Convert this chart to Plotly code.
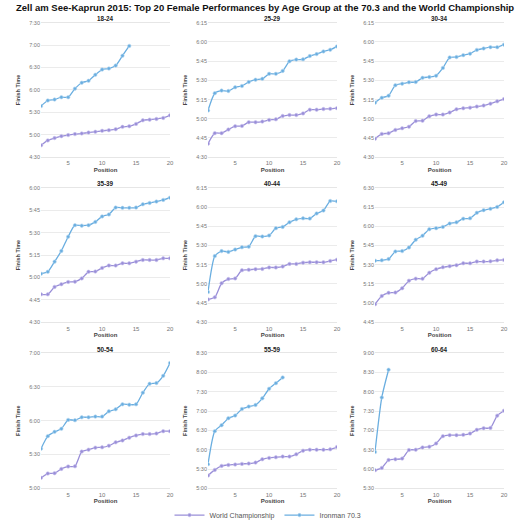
import plotly.graph_objects as go

age_groups = ["18-24", "25-29", "30-34", "35-39", "40-44", "45-49", "50-54", "55-59", "60-64"]

# Ironman 70.3 finish times (h:mm:ss)
im_18_24 = ["5:38:24", "5:45:54", "5:47:12", "5:50:18", "5:50:18", "6:01:48", "6:09:42", "6:12:18", "6:20:18", "6:27:18",
            "6:28:42", "6:32:36", "6:45:54", "6:59:00"]
im_25_29 = ["5:06:30", "5:20:00", "5:22:00", "5:21:42", "5:24:36", "5:25:36", "5:28:42", "5:30:30", "5:31:12", "5:35:06",
            "5:35:06", "5:37:24", "5:44:54", "5:46:12", "5:46:24", "5:49:00", "5:50:30", "5:52:36", "5:53:54", "5:56:30"]
im_30_34 = ["5:12:36", "5:16:24", "5:18:00", "5:26:12", "5:27:24", "5:28:30", "5:28:42", "5:32:00", "5:32:36", "5:33:36",
            "5:39:42", "5:47:54", "5:48:12", "5:49:42", "5:50:48", "5:53:48", "5:54:54", "5:55:54", "5:55:54", "5:57:54"]
im_35_39 = ["5:02:30", "5:03:48", "5:10:36", "5:17:48", "5:27:18", "5:35:00", "5:34:42", "5:35:00", "5:37:12", "5:40:54",
            "5:42:12", "5:46:48", "5:46:36", "5:46:36", "5:46:48", "5:49:00", "5:49:54", "5:50:48", "5:51:54", "5:53:24"]
im_40_44 = ["4:53:36", "5:21:42", "5:25:36", "5:25:00", "5:26:48", "5:28:36", "5:29:06", "5:37:18", "5:37:00", "5:37:48",
            "5:43:30", "5:44:30", "5:48:06", "5:50:24", "5:51:12", "5:51:00", "5:55:00", "5:57:18", "6:04:42", "6:04:30"]
im_45_49 = ["5:33:06", "5:33:24", "5:34:24", "5:40:18", "5:40:36", "5:43:24", "5:49:30", "5:52:36", "5:57:42", "5:58:30",
            "5:59:30", "6:02:06", "6:03:06", "6:05:54", "6:06:12", "6:10:30", "6:12:36", "6:13:36", "6:15:06", "6:18:42"]
im_50_54 = ["5:35:12", "5:46:18", "5:50:06", "5:52:48", "6:00:42", "6:00:24", "6:03:00", "6:03:00", "6:03:36", "6:03:36",
            "6:08:18", "6:10:06", "6:14:30", "6:14:12", "6:14:30", "6:24:48", "6:32:42", "6:33:18", "6:39:42", "6:51:06"]
im_55_59 = ["5:37:30", "6:28:48", "6:38:00", "6:48:48", "6:52:54", "7:03:12", "7:06:48", "7:09:24", "7:19:36", "7:34:30",
            "7:43:12", "7:52:00"]
im_60_64 = ["6:26:24", "7:51:00", "8:34:00"]

# World Championship finish times (h:mm:ss)
wc_18_24 = ["4:45:54", "4:52:30", "4:55:36", "4:58:12", "4:59:36", "5:00:54", "5:01:48", "5:03:00", "5:04:00", "5:05:18",
            "5:06:12", "5:07:30", "5:10:36", "5:11:30", "5:14:36", "5:19:24", "5:20:18", "5:21:12", "5:22:30", "5:26:00"]
wc_25_29 = ["4:40:36", "4:48:48", "4:48:48", "4:51:36", "4:54:12", "4:54:24", "4:57:18", "4:57:18", "4:57:48", "4:59:06",
            "4:59:36", "5:02:12", "5:02:54", "5:02:54", "5:04:12", "5:07:06", "5:07:06", "5:07:36", "5:07:48", "5:08:18"]
wc_30_34 = ["4:44:24", "4:48:12", "4:48:42", "4:51:18", "4:52:36", "4:53:48", "4:58:12", "4:58:30", "5:02:00", "5:03:18",
            "5:03:18", "5:04:54", "5:07:24", "5:08:12", "5:08:42", "5:09:30", "5:10:18", "5:11:48", "5:13:36", "5:15:24"]
wc_35_39 = ["4:48:42", "4:48:42", "4:53:42", "4:55:30", "4:57:00", "4:57:12", "4:59:24", "5:03:48", "5:04:00", "5:06:24",
            "5:08:00", "5:08:00", "5:09:30", "5:09:30", "5:10:36", "5:11:42", "5:11:42", "5:11:42", "5:12:48", "5:12:48"]
wc_40_44 = ["4:47:54", "4:49:30", "5:00:30", "5:03:48", "5:04:18", "5:10:42", "5:11:00", "5:11:30", "5:11:42", "5:12:48",
            "5:12:48", "5:13:30", "5:15:36", "5:15:36", "5:16:36", "5:16:54", "5:16:54", "5:16:54", "5:17:54", "5:18:54"]
wc_45_49 = ["4:59:06", "5:05:30", "5:08:00", "5:08:18", "5:11:36", "5:17:30", "5:19:06", "5:19:06", "5:23:42", "5:26:30",
            "5:28:00", "5:28:48", "5:29:36", "5:31:06", "5:31:06", "5:32:24", "5:32:24", "5:32:36", "5:33:24", "5:33:42"]
wc_50_54 = ["5:09:24", "5:13:12", "5:13:30", "5:17:18", "5:19:24", "5:19:36", "5:32:36", "5:34:18", "5:36:06", "5:36:24",
            "5:37:48", "5:40:48", "5:42:30", "5:44:54", "5:46:54", "5:48:06", "5:48:06", "5:48:42", "5:50:42", "5:50:42"]
wc_55_59 = ["5:20:00", "5:28:42", "5:34:54", "5:36:24", "5:37:00", "5:38:00", "5:38:30", "5:40:00", "5:45:12", "5:47:12",
            "5:48:18", "5:49:18", "5:49:18", "5:52:54", "5:58:30", "6:00:00", "6:00:00", "6:00:00", "6:00:36", "6:04:12"]
wc_60_64 = ["5:58:12", "6:01:48", "6:14:06", "6:15:06", "6:16:12", "6:29:30", "6:30:00", "6:33:36", "6:34:36", "6:39:42",
            "6:51:00", "6:52:36", "6:52:36", "6:53:00", "6:55:00", "7:00:48", "7:03:18", "7:03:48", "7:22:48", "7:30:30"]

# Y axis range per panel (h:mm) and tick step (minutes)
y_min = ["4:30", "4:30", "4:30", "4:30", "4:30", "4:45", "5:00", "5:00", "5:30"]
y_max = ["7:30", "6:15", "6:15", "6:00", "6:15", "6:30", "7:00", "8:30", "9:00"]
y_step = [30, 15, 15, 15, 15, 15, 30, 30, 30]
x_ticks = [5, 10, 15, 20]

im_series = [im_18_24, im_25_29, im_30_34, im_35_39, im_40_44, im_45_49, im_50_54, im_55_59, im_60_64]
wc_series = [wc_18_24, wc_25_29, wc_30_34, wc_35_39, wc_40_44, wc_45_49, wc_50_54, wc_55_59, wc_60_64]


def to_min(s):
    parts = [float(p) for p in s.split(":")]
    m = parts[0] * 60 + parts[1]
    if len(parts) > 2:
        m += parts[2] / 60
    return m


def fmt(m):
    m = int(round(m))
    return f"{m // 60}:{m % 60:02d}"


W = H = 530
col_px = [(41, 170), (208, 337), (375, 504)]
row_px = [(23, 159), (190, 326), (357, 494)]


def px_x(p):
    return p / W


def px_y(p):
    return 1 - p / H


C_WC = "#9a8fd8"
C_IM = "#6aaee0"
FONT = "Liberation Sans, Arial, sans-serif"

fig = go.Figure()
annotations = []
layout_axes = {}

for i, grp in enumerate(age_groups):
    r, c = divmod(i, 3)
    n = i + 1
    xa = "x" if n == 1 else f"x{n}"
    ya = "y" if n == 1 else f"y{n}"
    wc = [to_min(v) for v in wc_series[i]]
    im = [to_min(v) for v in im_series[i]]
    fig.add_trace(go.Scatter(
        x=list(range(1, len(wc) + 1)), y=wc, mode="lines+markers", name="World Championship",
        line=dict(color=C_WC, width=1.3, shape="spline", smoothing=0.6),
        marker=dict(size=3.5, color=C_WC, line=dict(color="#c9c2ee", width=0.6)),
        xaxis=xa, yaxis=ya, showlegend=(i == 0), legendgroup="wc"))
    fig.add_trace(go.Scatter(
        x=list(range(1, len(im) + 1)), y=im, mode="lines+markers", name="Ironman 70.3",
        line=dict(color=C_IM, width=1.3, shape="spline", smoothing=0.6),
        marker=dict(size=3.5, color=C_IM, line=dict(color="#b5d7f0", width=0.6)),
        xaxis=xa, yaxis=ya, showlegend=(i == 0), legendgroup="im"))

    lo, hi = to_min(y_min[i]), to_min(y_max[i])
    tv = []
    t = lo
    while t <= hi + 1e-6:
        tv.append(t)
        t += y_step[i]
    x0, x1 = col_px[c]
    y0, y1 = row_px[r]
    key_x = "xaxis" if n == 1 else f"xaxis{n}"
    key_y = "yaxis" if n == 1 else f"yaxis{n}"
    layout_axes[key_x] = dict(
        domain=[px_x(x0), px_x(x1)], anchor=ya, range=[1, 20], tickvals=x_ticks, automargin=False,
        showgrid=False, zeroline=False, showline=True, linecolor="#e6e6e6", linewidth=1, mirror=True,
        ticks="", tickfont=dict(size=6, color="#777777", family=FONT),
        title=dict(text="<b>Position</b>", font=dict(size=6, color="#444444", family=FONT), standoff=2),
    )
    layout_axes[key_y] = dict(
        domain=[px_y(y1), px_y(y0)], anchor=xa, range=[lo, hi], tickvals=tv, automargin=False,
        ticktext=[fmt(v) for v in tv], showgrid=True, gridcolor="#ebebeb", gridwidth=1,
        zeroline=False, showline=False, ticks="",
        tickfont=dict(size=5.5, color="#777777", family=FONT),
        title=dict(text="<b>Finish Time</b>", font=dict(size=5.5, color="#444444", family=FONT), standoff=8),
    )
    annotations.append(dict(
        text=f"<b>{grp}</b>", x=px_x((x0 + x1) / 2), y=px_y(y0 - 4), xref="paper", yref="paper",
        xanchor="center", yanchor="middle", showarrow=False,
        font=dict(size=6.3, color="#222222", family=FONT)))

annotations.append(dict(
    text="<b>Zell am See-Kaprun 2015: Top 20 Female Performances by Age Group at the 70.3 and the World Championship</b>",
    x=px_x(265), y=px_y(7.5), xref="paper", yref="paper", xanchor="center", yanchor="middle", showarrow=False,
    font=dict(size=9.5, color="#111111", family=FONT)))

fig.update_layout(
    width=W, height=H, margin=dict(l=0, r=0, t=0, b=0),
    paper_bgcolor="white", plot_bgcolor="white",
    showlegend=True,
    legend=dict(orientation="h", x=px_x(268), xanchor="center", y=px_y(521), yanchor="middle",
                font=dict(size=7, color="#555555", family=FONT), itemwidth=30, bgcolor="rgba(0,0,0,0)"),
    annotations=annotations,
    **layout_axes,
)

fig.write_html("out.html", config={"displayModeBar": False},
               post_script="document.body.style.margin='0';document.body.style.overflow='hidden';")
